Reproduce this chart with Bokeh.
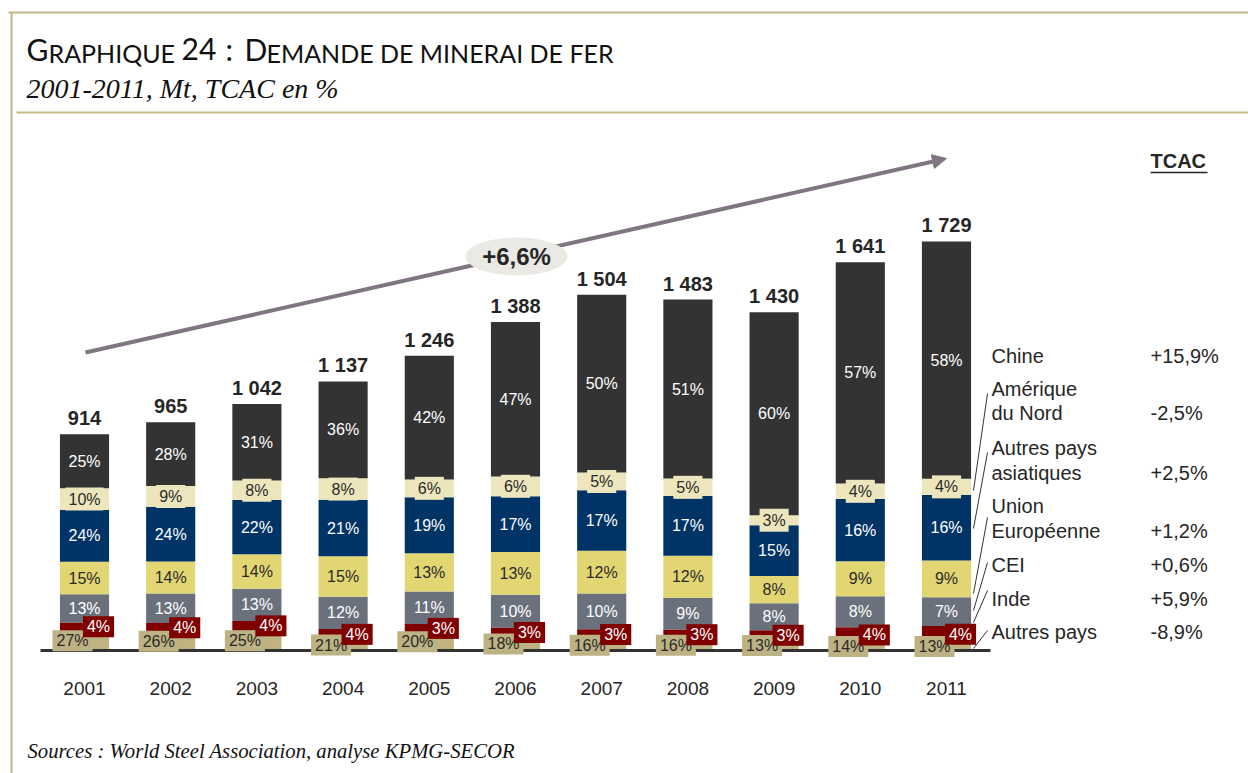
from bokeh.plotting import figure
from bokeh.models import Range1d, ColumnDataSource, Arrow, NormalHead
from bokeh.core.properties import value
from bokeh.embed import file_html
from bokeh.resources import INLINE

# ---------------- data ----------------
years = [2001, 2002, 2003, 2004, 2005, 2006, 2007, 2008, 2009, 2010, 2011]
totals = [914, 965, 1042, 1137, 1246, 1388, 1504, 1483, 1430, 1641, 1729]
pct_chine = [25, 28, 31, 36, 42, 47, 50, 51, 60, 57, 58]
pct_amerique = [10, 9, 8, 8, 6, 6, 5, 5, 3, 4, 4]
pct_asie = [24, 24, 22, 21, 19, 17, 17, 17, 15, 16, 16]
pct_ue = [15, 14, 14, 15, 13, 13, 12, 12, 8, 9, 9]
pct_cei = [13, 13, 13, 12, 11, 10, 10, 9, 8, 8, 7]
pct_inde = [4, 4, 4, 4, 3, 3, 3, 3, 3, 4, 4]
pct_autres = [27, 26, 25, 21, 20, 18, 16, 16, 13, 14, 13]
legend_lines = [["Chine"], ["Amérique", "du Nord"], ["Autres pays", "asiatiques"],
                ["Union", "Européenne"], ["CEI"], ["Inde"], ["Autres pays"]]
tcac = ["+15,9%", "-2,5%", "+2,5%", "+1,2%", "+0,6%", "+5,9%", "-8,9%"]
cagr_total = "+6,6%"

# ---------------- geometry (screen px -> data) ----------------
W, H = 1248, 773
ORIGIN = 0.0                 # screen position of the canvas' top-left corner
X0, SX = 84.0, 86.2          # screen x of first year, px per year
BASE, SY = 650.0, 0.2366     # screen y of zero, px per Mt
x_start = years[0] - (X0 - ORIGIN) / SX
x_end = x_start + W / SX
y_end = (BASE - ORIGIN) / SY
y_start = y_end - H / SY


def px(sx):
    return x_start + (sx - ORIGIN) / SX


def py(sy):
    return y_end - (sy - ORIGIN) / SY


p = figure(width=W, height=H, x_range=Range1d(x_start, x_end), y_range=Range1d(y_start, y_end),
           x_axis_type=None, y_axis_type=None, toolbar_location=None, output_backend="svg",
           min_border=0, outline_line_color=None, background_fill_color="white")

SANS = value("Liberation Sans")
SERIF = value("Liberation Serif")
TITLEF = value("Lato")

# ---------------- frame ----------------
FRAME = "#C4B68A"
p.segment(x0=[px(8), px(11), px(16)], y0=[py(12), py(12), py(112)],
          x1=[px(1248), px(11), px(1248)], y1=[py(12), py(773), py(112)],
          line_color=FRAME, line_width=2)

# ---------------- title ----------------
title_parts = [("G", 26, "30px", 48.5), ("RAPHIQUE", 48, "25px", 52), ("24", 181, "30px", 48.5),
               (":", 225, "30px", 48.5), ("D", 244, "30px", 48.5),
               ("EMANDE DE MINERAI DE FER", 266, "25px", 52)]
for txt, sx, fs, sy in title_parts:
    p.text(x=[px(sx)], y=[py(sy)], text=[txt], text_font=TITLEF, text_font_size=fs,
           text_color="#111111", text_align="left", text_baseline="middle")
p.text(x=[px(26)], y=[py(88)], text=["2001-2011, Mt, TCAC en %"], text_font=SERIF,
       text_font_style="italic", text_font_size="28px", text_color="#111111",
       text_align="left", text_baseline="middle")
p.text(x=[px(27)], y=[py(750)], text=["Sources : World Steel Association, analyse KPMG-SECOR"],
       text_font=SERIF, text_font_style="italic", text_font_size="20.7px", text_color="#111111",
       text_align="left", text_baseline="middle")

# ---------------- stacked bars ----------------
def mt(pcts):
    return [pc / 100.0 * t for pc, t in zip(pcts, totals)]

seg_chine = mt(pct_chine)
seg_amerique = mt(pct_amerique)
seg_asie = mt(pct_asie)
seg_ue = mt(pct_ue)
seg_cei = mt(pct_cei)
seg_inde = mt(pct_inde)
seg_autres = [t - sum(v) for t, v in zip(totals, zip(seg_chine, seg_amerique, seg_asie,
                                                       seg_ue, seg_cei, seg_inde))]

stack_names = ["autres", "inde", "cei", "ue", "asie", "amerique", "chine"]
stack_vals = [seg_autres, seg_inde, seg_cei, seg_ue, seg_asie, seg_amerique, seg_chine]
stack_pcts = [pct_autres, pct_inde, pct_cei, pct_ue, pct_asie, pct_amerique, pct_chine]
colors = ["#BFB382", "#800000", "#6A717C", "#E2D673", "#003366", "#EDE6BD", "#333333"]
BW = 0.57

src = ColumnDataSource(dict(year=years, **{n: v for n, v in zip(stack_names, stack_vals)}))
p.vbar_stack(stack_names, x="year", width=BW, color=colors, line_color=None, source=src)

# baseline
p.segment(x0=[px(40)], y0=[0], x1=[px(990)], y1=[0], line_color="#333333", line_width=3)

# segment centres
bottoms = [0.0] * len(years)
centres = []
for vals in stack_vals:
    centres.append([b + v / 2.0 for b, v in zip(bottoms, vals)])
    bottoms = [b + v for b, v in zip(bottoms, vals)]

# inner labels
inner = {
    "cei": "white", "ue": "#2a2a2a", "asie": "white", "amerique": "#2a2a2a", "chine": "white",
}
for name, vals, pcts, cen, col in zip(stack_names, stack_vals, stack_pcts, centres, colors):
    labels = [f"{v}%" for v in pcts]
    if name in inner:
        kw = {}
        if name == "amerique":
            kw = dict(background_fill_color=col, padding=3)
        p.text(x=years, y=cen, text=labels, text_font=SANS, text_font_size="16px",
               text_color=inner[name], text_align="center", text_baseline="middle", **kw)

# bottom labels (tan first, red on top)
BOX_PAD = dict(left=4, right=4, top=2, bottom=2)
p.text(x=years, y=centres[0], text=[f"{v}%" for v in pct_autres], x_offset=-12,
       text_font=SANS, text_font_size="16px", text_color="#2a2a2a", text_align="center",
       text_baseline="middle", background_fill_color="#BDB283", padding=BOX_PAD)
p.text(x=years, y=centres[1], text=[f"{v}%" for v in pct_inde], x_offset=14,
       text_font=SANS, text_font_size="16px", text_color="white", text_align="center",
       text_baseline="middle", background_fill_color="#800000", padding=BOX_PAD)

# totals
p.text(x=years, y=totals, text=[f"{t:,}".replace(",", " ") for t in totals], y_offset=-16,
       text_font=SANS, text_font_style="bold", text_font_size="20px", text_color="#262626",
       text_align="center", text_baseline="middle")

# years
p.text(x=years, y=[py(688)] * len(years), text=[str(y) for y in years], text_font=SANS,
       text_font_size="19px", text_color="#262626", text_align="center", text_baseline="middle")

# ---------------- growth arrow ----------------
ARROW = "#7F7681"
p.add_layout(Arrow(x_start=px(85), y_start=py(352), x_end=px(946), y_end=py(158),
                   line_color=ARROW, line_width=4, level="underlay",
                   end=NormalHead(size=14, fill_color=ARROW, line_color=ARROW)))
p.ellipse(x=[px(516)], y=[py(256)], width=102, height=38, width_units="screen",
          height_units="screen", fill_color="#EBE9E3", line_color=None)
p.text(x=[px(516)], y=[py(256)], text=[cagr_total], text_font=SANS, text_font_style="bold",
       text_font_size="24px", text_color="#262626", text_align="center", text_baseline="middle")

# ---------------- legend / TCAC ----------------
LEG = "#262626"
p.text(x=[px(1150)], y=[py(160)], text=["TCAC"], text_font=SANS, text_font_style="bold",
       text_font_size="20px", text_color=LEG, text_align="left", text_baseline="middle")
p.segment(x0=[px(1150)], y0=[py(172)], x1=[px(1207)], y1=[py(172)], line_color=LEG, line_width=1.5)

leg_y = [[355], [388, 412], [447, 472], [505, 530], [564], [598], [631]]
for lines, ys, val in zip(legend_lines, leg_y, tcac):
    p.text(x=[px(991)] * len(lines), y=[py(v) for v in ys], text=lines, text_font=SANS,
           text_font_size="20px", text_color=LEG, text_align="left", text_baseline="middle")
    p.text(x=[px(1150)], y=[py(ys[-1])], text=[val], text_font=SANS, text_font_size="20px",
           text_color=LEG, text_align="left", text_baseline="middle")

# leader lines from legend to the 2011 bar segments
lead_start = [393, 452, 517, 562, 590, 630]
lead_end = [490, 528, 593, 610, 622, 648]
p.segment(x0=[px(987)] * 6, y0=[py(v) for v in lead_start],
          x1=[px(973)] * 6, y1=[py(v) for v in lead_end], line_color="#333333", line_width=1)

open("out.html", "w").write(file_html(p, INLINE))
